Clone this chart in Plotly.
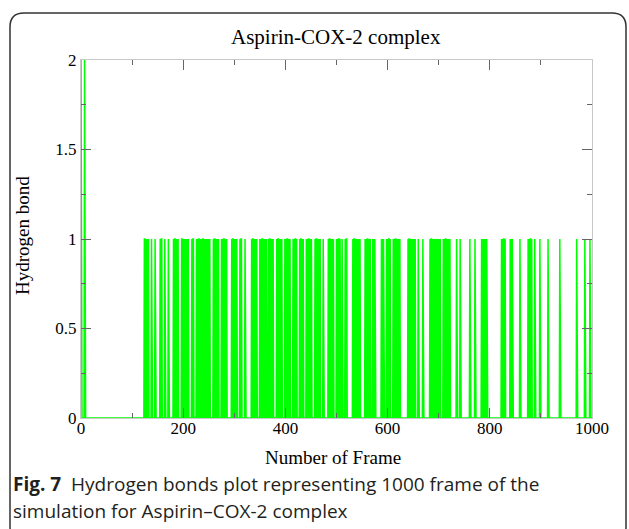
import plotly.graph_objects as go

# ---- data ----
frames_two = [0, 7]
frames_one = [
    124, 125, 127, 129, 130, 132,
    138,
    145,
    155, 157, 158,
    164,
    171,
    181, 183, 184, 186, 188, 190,
    197, 198, 200, 202, 203, 205, 207, 209, 210,
    217, 219, 220,
    226, 228, 230, 231, 233,
    236, 238, 239, 241, 243, 245, 246, 248, 250, 252,
    259, 261, 262, 264, 266, 268, 269,
    275, 277, 279, 280, 282, 284, 285,
    295, 297, 298, 300, 302, 304, 305,
    311, 313, 314,
    321,
    334, 336, 337, 339, 341, 343, 344,
    350, 352, 354, 355, 357, 359, 361, 363,
    367, 369, 370, 372, 374, 376,
    383, 385, 386, 388, 390, 392, 393,
    399, 401, 403, 404, 406, 408, 409,
    415, 417, 419, 420, 422,
    428, 430, 431, 433, 435,
    441, 443, 445, 446, 448, 450, 451,
    458, 460, 461, 463, 465, 467, 468,
    474,
    484, 486, 487, 489, 491, 493, 494,
    500, 502, 504, 505, 507,
    511,
    517, 519, 520,
    532, 534, 535, 537, 539, 541, 543, 544, 546,
    556, 558, 560, 561, 563, 565, 566,
    571, 573, 575,
    588, 590, 592,
    598, 600, 602, 603, 605,
    611, 613, 615, 616, 618, 620, 622, 624,
    640, 642, 643, 645, 647, 649, 651, 652, 654,
    660,
    669,
    683, 685, 686, 688, 690, 692, 694, 695, 697, 699, 701, 703,
    709, 711, 713, 714, 716, 718, 720, 722,
    735,
    742,
    761,
    771,
    784, 786, 788, 790, 792, 794,
    823, 825, 827, 828, 830,
    840, 842, 844,
    859,
    875, 877, 879, 880, 882,
    888,
    898,
    914,
    937,
    970,
    986,
    996,
]
n_frames = 1001
x_ticks = [0, 200, 400, 600, 800, 1000]
y_ticks = [0, 0.5, 1, 1.5, 2]
y_tick_text = ["0", "0.5", "1", "1.5", "2"]

frames = list(range(n_frames))
ones_set = set(frames_one)
twos_set = set(frames_two)
hbond = [2 if f in twos_set else (1 if f in ones_set else 0) for f in frames]

# ---- layout geometry (pixels) ----
W_IMG, H_IMG = 629, 529
L, R, T, B = 81, 592, 60, 418


def pxx(x):
    return (x - L) / (R - L)


def pxy(y):
    return (B - y) / (B - T)


fig = go.Figure()
fig.add_trace(go.Scatter(
    x=frames, y=hbond, mode="lines",
    line=dict(color="#00ff00", width=1.5),
    hoverinfo="skip", showlegend=False,
))

axis_common = dict(
    showgrid=False, zeroline=False,
    showline=True, linecolor="#c8c8c8", linewidth=1, mirror="ticks",
    ticks="inside", ticklen=10, tickcolor="#666666", tickwidth=1,
    tickfont=dict(family="Liberation Serif", size=17, color="#000000"),
)
fig.update_xaxes(range=[0, 1000], tickvals=x_ticks, ticklabelstandoff=-5,
                 minor=dict(dtick=100, ticks="inside", ticklen=5, tickcolor="#666666"),
                 **axis_common)
fig.update_yaxes(range=[0, 2], tickvals=y_ticks, ticktext=y_tick_text,
                 minor=dict(dtick=0.25, ticks="inside", ticklen=5, tickcolor="#666666"),
                 **axis_common)

# rounded frame box
x0, x1, y0, y1, r = 10, 626, 13, 541, 14
path = (
    f"M {pxx(x0 + r)},{pxy(y0)} L {pxx(x1 - r)},{pxy(y0)} "
    f"Q {pxx(x1)},{pxy(y0)} {pxx(x1)},{pxy(y0 + r)} "
    f"L {pxx(x1)},{pxy(y1 - r)} Q {pxx(x1)},{pxy(y1)} {pxx(x1 - r)},{pxy(y1)} "
    f"L {pxx(x0 + r)},{pxy(y1)} Q {pxx(x0)},{pxy(y1)} {pxx(x0)},{pxy(y1 - r)} "
    f"L {pxx(x0)},{pxy(y0 + r)} Q {pxx(x0)},{pxy(y0)} {pxx(x0 + r)},{pxy(y0)} Z"
)
fig.add_shape(type="path", path=path, xref="paper", yref="paper",
              line=dict(color="#333333", width=1.5), layer="above")

serif = "Liberation Serif"
anns = [
    dict(text="Aspirin-COX-2 complex", x=pxx(336), y=pxy(37), xanchor="center", yanchor="middle",
         font=dict(family=serif, size=21, color="#000000")),
    dict(text="Number of Frame", x=pxx(333), y=pxy(457), xanchor="center", yanchor="middle",
         font=dict(family=serif, size=19, color="#000000")),
    dict(text="Hydrogen bond", x=pxx(22), y=pxy(236), xanchor="center", yanchor="middle",
         textangle=-90, font=dict(family=serif, size=19, color="#000000")),
    dict(text="<b>Fig. 7</b>\u00a0\u00a0Hydrogen bonds plot representing 1000 frame of the",
         x=pxx(11), y=pxy(484), xanchor="left", yanchor="middle",
         font=dict(family="Open Sans", size=19, color="#231f20")),
    dict(text="simulation for Aspirin\u2013COX-2 complex",
         x=pxx(11), y=pxy(511), xanchor="left", yanchor="middle",
         font=dict(family="Open Sans", size=19, color="#231f20")),
]
for a in anns:
    a.update(xref="paper", yref="paper", showarrow=False)
fig.update_layout(annotations=anns)

fig.update_layout(
    width=W_IMG, height=H_IMG,
    margin=dict(l=L, r=W_IMG - R, t=T, b=H_IMG - B, pad=0),
    paper_bgcolor="white", plot_bgcolor="white",
    showlegend=False,
)

fig.write_html("out.html")
